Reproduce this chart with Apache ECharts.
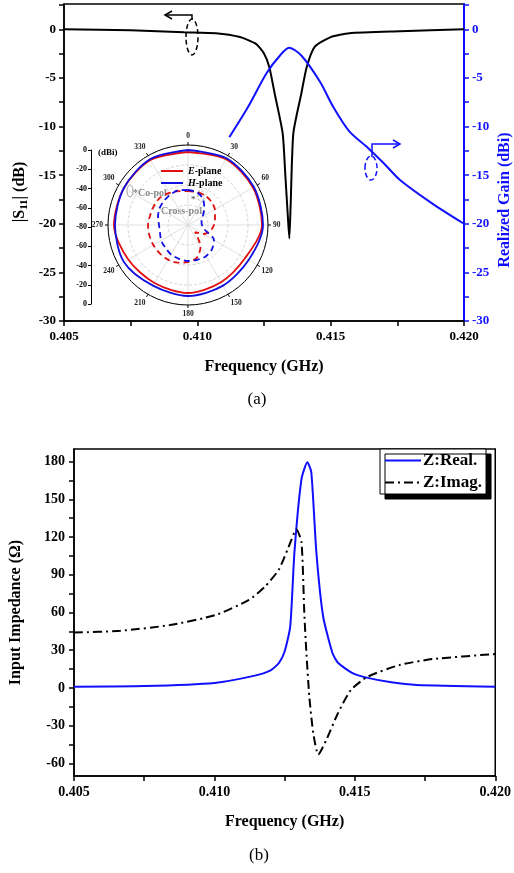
<!DOCTYPE html>
<html>
<head>
<meta charset="utf-8">
<script src="https://cdn.jsdelivr.net/npm/echarts@6/dist/echarts.min.js"></script>
<style>
  html, body { margin: 0; padding: 0; background: #fff; }
  #chart { width: 514px; height: 873px; }
</style>
</head>
<body>
<div id="chart"></div>
<script>
// ---- (a) S11 and realized gain ----
var s11Freq = [0.4050, 0.4075, 0.4095, 0.4107, 0.4116, 0.4122, 0.4125, 0.4127, 0.4129, 0.4132, 0.4133, 0.4134, 0.41345, 0.4135, 0.4136, 0.4139, 0.4141, 0.4144, 0.4150, 0.4157, 0.4176, 0.4200]
var s11Val = [0.0, -0.1, -0.3, -0.4, -0.8, -1.5, -2.5, -3.9, -6.6, -10.7, -15, -19.5, -21.5, -18, -10.7, -6.6, -3.9, -1.8, -0.8, -0.4, -0.2, 0.0]
var gainFreq = [0.4112, 0.4119, 0.4126, 0.4131, 0.41344, 0.4139, 0.4146, 0.4151, 0.4157, 0.4164, 0.4170, 0.4176, 0.4188, 0.4200]
var gainVal = [-11.1, -8.0, -4.5, -2.7, -1.9, -2.7, -5.4, -8.0, -10.5, -12.2, -13.8, -15.5, -17.9, -20.0]

// ---- (b) input impedance ----
var reFreq = [0.4050, 0.4075, 0.4100, 0.4114, 0.4120, 0.4123, 0.4125, 0.4127, 0.41285, 0.4131, 0.41331, 0.41345, 0.41363, 0.41387, 0.4142, 0.4144, 0.4149, 0.41546, 0.4163, 0.4172, 0.4200]
var reVal = [1, 1.5, 4, 9.6, 14, 20, 29, 49, 108, 166, 179.5, 171.5, 108, 57, 28, 20, 12, 8, 4.5, 2.4, 1]
var imFreq = [0.4050, 0.40665, 0.40842, 0.41004, 0.41123, 0.4118, 0.41229, 0.41264, 0.41292, 0.4131, 0.4132, 0.41327, 0.41338, 0.41352, 0.4137, 0.41398, 0.4144, 0.41486, 0.41546, 0.41662, 0.41778, 0.4200]
var imVal = [44, 45.5, 50, 58, 70, 80.6, 94, 112, 126, 116, 60, 30, -7, -36, -53, -41.5, -20, -1.6, 9, 18.4, 23, 27]

// ---- inset radiation pattern (dBi) ----
var coAngle = [0, 30, 60, 90, 120, 150, 180, 210, 240, 270, 300, 330, 360]
var coE = [-7, -4, -5, -6, -14, -14, -12, -13, -11, -6, -6, -5, -7]
var coH = [-5, -3, -4, -5, -10, -10, -9, -10, -6, -7, -6, -4, -5]
var xAngle = [0, 15, 30, 45, 60, 75, 90, 105, 120, 135, 150, 165, 180, 195, 210, 225, 240, 255, 270, 285, 300, 315, 330, 345, 360]
var xE = [-46, -46, -46, -47, -49, -52, -54, -57, -62, -70, -55, -46, -43, -41, -40, -40, -40, -40, -40, -41, -41, -41, -43, -45, -46]
var xH = [-45, -46, -50, -57, -63, -66, -66, -63, -50, -46, -44, -44, -44, -45, -46, -48, -49, -51, -51, -49, -47, -46, -45, -44, -45]

// tick labels
var freqLabels = [0.405, 0.410, 0.415, 0.420]
var freqTicks = [0.405, 0.4075, 0.410, 0.4125, 0.415, 0.4175, 0.420]
var dbLabels = [0, -5, -10, -15, -20, -25, -30]
var dbTicks = [2.5, 0, -2.5, -5, -7.5, -10, -12.5, -15, -17.5, -20, -22.5, -25, -27.5, -30]
var zLabels = [-60, -30, 0, 30, 60, 90, 120, 150, 180]
var zTicks = [-60, -45, -30, -15, 0, 15, 30, 45, 60, 75, 90, 105, 120, 135, 150, 165, 180]

function pairs(xs, ys) {
    return xs.map(function (x, i) { return [x, ys[i]] })
}
function polarPairs(angles, vals) {
    return angles.map(function (a, i) { return [vals[i], a] })
}

var serif = '"Liberation Serif", "DejaVu Serif", serif'
var BLUE = '#1010ff'

function freqAxis(grid, fs) {
    return {
        gridIndex: grid,
        type: 'value',
        min: 0.405,
        max: 0.420,
        name: 'Frequency (GHz)',
        nameLocation: 'middle',
        nameGap: 38,
        nameTextStyle: { fontFamily: serif, fontWeight: 'bold', fontSize: 16, color: '#000' },
        axisLine: { onZero: false, lineStyle: { color: '#000', width: 1.5 } },
        axisTick: { customValues: freqTicks, inside: false, length: 5, lineStyle: { color: '#000', width: 1.5 } },
        axisLabel: {
            customValues: freqLabels,
            formatter: function (v) { return v.toFixed(3) },
            fontFamily: serif, fontWeight: 'bold', fontSize: fs, color: '#000', margin: 9
        },
        splitLine: { show: false }
    }
}

var chart = echarts.init(document.getElementById('chart'))
var option = {
    animation: false,
    backgroundColor: '#fff',
    grid: [
        { left: 64, top: 4, width: 400, height: 317, show: true, borderColor: '#000', borderWidth: 1.5, backgroundColor: 'transparent' },
        { left: 70, top: 449, width: 426, height: 327, show: true, borderColor: '#000', borderWidth: 1.5, backgroundColor: 'transparent' },
        { left: 91, top: 150, width: 10, height: 154 }
    ],
    polar: { center: [188, 225], radius: 80 },
    angleAxis: {
        type: 'value', min: 0, max: 360, interval: 30, startAngle: 90, clockwise: true,
        axisLine: { lineStyle: { color: '#000', width: 1 } },
        axisTick: { show: true, length: 3, lineStyle: { color: '#000' } },
        axisLabel: {
            formatter: function (v) { return v === 360 ? '' : String(v) },
            fontFamily: serif, fontWeight: 'bold', fontSize: 7.5, color: '#222', margin: 5
        },
        splitLine: { show: true, lineStyle: { color: '#d8d8d8', width: 0.8 } }
    },
    radiusAxis: {
        type: 'value', min: -80, max: 0, interval: 20,
        axisLine: { show: false }, axisTick: { show: false }, axisLabel: { show: false },
        splitLine: { show: true, lineStyle: { color: '#c8c8c8', type: [3, 2], width: 0.8 } }
    },
    xAxis: [
        freqAxis(0, 13),
        freqAxis(1, 14),
        { gridIndex: 2, type: 'value', min: 0, max: 1, show: false }
    ],
    yAxis: [
        {
            gridIndex: 0, type: 'value', min: -30, max: 2.6, position: 'left',
            axisLine: { show: true, onZero: false, lineStyle: { color: '#000', width: 1.5 } },
            axisTick: { show: true, customValues: dbTicks, length: 5, lineStyle: { color: '#000', width: 1.5 } },
            axisLabel: { customValues: dbLabels, fontFamily: serif, fontWeight: 'bold', fontSize: 13, color: '#000', margin: 8 },
            splitLine: { show: false }
        },
        {
            gridIndex: 0, type: 'value', min: -30, max: 2.6, position: 'right',
            axisLine: { show: true, onZero: false, lineStyle: { color: BLUE, width: 2 } },
            axisTick: { show: true, customValues: dbTicks, length: 5, lineStyle: { color: BLUE, width: 1.5 } },
            axisLabel: { customValues: dbLabels, fontFamily: serif, fontWeight: 'bold', fontSize: 13, color: BLUE, margin: 8 },
            splitLine: { show: false }
        },
        {
            gridIndex: 1, type: 'value', min: -70, max: 190,
            name: 'Input Impedance (Ω)',
            nameLocation: 'middle', nameGap: 50,
            nameTextStyle: { fontFamily: serif, fontWeight: 'bold', fontSize: 16, color: '#000' },
            axisLine: { show: true, onZero: false, lineStyle: { color: '#000', width: 1.5 } },
            axisTick: { show: true, customValues: zTicks, length: 5, lineStyle: { color: '#000', width: 1.5 } },
            axisLabel: { customValues: zLabels, fontFamily: serif, fontWeight: 'bold', fontSize: 14, color: '#000', margin: 9 },
            splitLine: { show: false }
        },
        {
            gridIndex: 2, type: 'value', min: -80, max: 80, interval: 20, position: 'left',
            axisLine: { show: true, onZero: false, lineStyle: { color: '#000', width: 1 } },
            axisTick: { show: true, length: 3, lineStyle: { color: '#000' } },
            axisLabel: {
                formatter: function (v) { return String(Math.abs(v) - 80) },
                fontFamily: serif, fontWeight: 'bold', fontSize: 8, color: '#000', margin: 4
            },
            splitLine: { show: false }
        }
    ],
    legend: [
        {
            data: ['Z:Real.', 'Z:Imag.'],
            orient: 'vertical', left: 380, top: 449,
            itemWidth: 36, itemHeight: 14, itemGap: 5,
            padding: [3, 4, 3, 4],
            backgroundColor: '#fff', borderColor: '#000', borderWidth: 1,
            shadowColor: '#000', shadowBlur: 0, shadowOffsetX: 5, shadowOffsetY: 5,
            itemStyle: { opacity: 0 },
            textStyle: { fontFamily: serif, fontWeight: 'bold', fontSize: 17, color: '#000', padding: [0, 0, 0, -3] }
        },
        {
            data: ['E-plane', 'H-plane'],
            orient: 'vertical', left: 155, top: 161,
            itemWidth: 22, itemHeight: 8, itemGap: 2,
            itemStyle: { opacity: 0 },
            formatter: function (n) { return '{i|' + n.charAt(0) + '}{b|' + n.slice(1) + '}' },
            textStyle: {
                fontFamily: serif, fontWeight: 'bold', fontSize: 10, color: '#000',
                rich: {
                    i: { fontFamily: serif, fontWeight: 'bold', fontStyle: 'italic', fontSize: 10 },
                    b: { fontFamily: serif, fontWeight: 'bold', fontSize: 10 }
                }
            }
        }
    ],
    series: [
        {
            name: '|S11|', type: 'line', xAxisIndex: 0, yAxisIndex: 0, data: pairs(s11Freq, s11Val),
            symbol: 'none', smooth: 0.2, lineStyle: { color: '#000', width: 2 }, itemStyle: { color: '#000' }
        },
        {
            name: 'Realized Gain', type: 'line', xAxisIndex: 0, yAxisIndex: 1, data: pairs(gainFreq, gainVal),
            symbol: 'none', smooth: 0.3, lineStyle: { color: BLUE, width: 2 }, itemStyle: { color: BLUE }
        },
        {
            name: 'Z:Real.', type: 'line', xAxisIndex: 1, yAxisIndex: 2, data: pairs(reFreq, reVal),
            symbol: 'none', smooth: 0.2, lineStyle: { color: BLUE, width: 2 }, itemStyle: { color: BLUE }
        },
        {
            name: 'Z:Imag.', type: 'line', xAxisIndex: 1, yAxisIndex: 2, data: pairs(imFreq, imVal),
            symbol: 'none', smooth: 0.2, lineStyle: { color: '#000', width: 2, type: [9, 4, 2, 4] }, itemStyle: { color: '#000' }
        },
        {
            name: 'E-plane', type: 'line', coordinateSystem: 'polar', data: polarPairs(coAngle, coE),
            symbol: 'none', smooth: 0.3, lineStyle: { color: '#e01010', width: 1.8 }, itemStyle: { color: '#e01010' }
        },
        {
            name: 'H-plane', type: 'line', coordinateSystem: 'polar', data: polarPairs(coAngle, coH),
            symbol: 'none', smooth: 0.3, lineStyle: { color: '#1010e0', width: 1.8 }, itemStyle: { color: '#1010e0' }
        },
        {
            name: 'E-plane', type: 'line', coordinateSystem: 'polar', data: polarPairs(xAngle, xE),
            symbol: 'none', smooth: 0.3, lineStyle: { color: '#e01010', width: 1.8, type: [6, 4] }, itemStyle: { color: '#e01010' }
        },
        {
            name: 'H-plane', type: 'line', coordinateSystem: 'polar', data: polarPairs(xAngle, xH),
            symbol: 'none', smooth: 0.3, lineStyle: { color: '#1010e0', width: 1.8, type: [6, 4] }, itemStyle: { color: '#1010e0' }
        }
    ],
    graphic: [
        {
            type: 'text', x: 20, y: 192, rotation: Math.PI / 2,
            style: {
                text: '{n||S}{s|11}{n|| (dB)}', fill: '#000', align: 'center', verticalAlign: 'middle',
                rich: {
                    n: { fontFamily: serif, fontWeight: 'bold', fontSize: 16, lineHeight: 20 },
                    s: { fontFamily: serif, fontWeight: 'bold', fontSize: 11, lineHeight: 20, padding: [8, 0, 0, 0] }
                }
            }
        },
        {
            type: 'text', x: 505, y: 200, rotation: Math.PI / 2,
            style: { text: 'Realized Gain (dBi)', fill: BLUE, align: 'center', verticalAlign: 'middle', font: 'bold 16px ' + serif }
        },
        // arrow + ellipse marking the |S11| curve
        { type: 'ellipse', shape: { cx: 192, cy: 37, rx: 6, ry: 18 }, style: { fill: 'none', stroke: '#000', lineWidth: 1.5, lineDash: [5, 3] } },
        { type: 'polyline', shape: { points: [[192, 19], [192, 15], [166, 15]] }, style: { fill: 'none', stroke: '#000', lineWidth: 1.5 } },
        { type: 'polyline', shape: { points: [[172, 11], [165, 15], [172, 19]] }, style: { fill: 'none', stroke: '#000', lineWidth: 1.5 } },
        // arrow + ellipse marking the gain curve
        { type: 'ellipse', shape: { cx: 371, cy: 168, rx: 6, ry: 12 }, style: { fill: 'none', stroke: BLUE, lineWidth: 1.5, lineDash: [5, 3] } },
        { type: 'polyline', shape: { points: [[372, 157], [372, 144], [399, 144]] }, style: { fill: 'none', stroke: BLUE, lineWidth: 1.5 } },
        { type: 'polyline', shape: { points: [[393, 140], [400, 144], [393, 148]] }, style: { fill: 'none', stroke: BLUE, lineWidth: 1.5 } },
        // inset notes
        { type: 'text', x: 98, y: 153, style: { text: '(dBi)', fill: '#000', font: 'bold 9px ' + serif, verticalAlign: 'middle' } },
        { type: 'ellipse', shape: { cx: 130, cy: 191, rx: 3, ry: 6 }, style: { fill: 'none', stroke: '#999', lineWidth: 1 } },
        { type: 'text', x: 133, y: 193, style: { text: '*Co-pol.', fill: '#888', font: 'bold 10px ' + serif, verticalAlign: 'middle' } },
        { type: 'ellipse', shape: { cx: 201, cy: 196, rx: 3, ry: 6 }, style: { fill: 'none', stroke: '#999', lineWidth: 1, lineDash: [2, 2] } },
        { type: 'text', x: 191, y: 200, style: { text: '*', fill: '#666', font: 'bold 9px ' + serif, verticalAlign: 'middle' } },
        { type: 'text', x: 161, y: 211, style: { text: 'Cross-pol.', fill: '#888', font: 'bold 10px ' + serif, verticalAlign: 'middle' } },
        // panel captions
        { type: 'text', x: 257, y: 400, style: { text: '(a)', fill: '#000', font: '17px ' + serif, align: 'center', verticalAlign: 'middle' } },
        { type: 'text', x: 259, y: 856, style: { text: '(b)', fill: '#000', font: '17px ' + serif, align: 'center', verticalAlign: 'middle' } }
    ]
}
option && chart.setOption(option)
</script>
</body>
</html>
